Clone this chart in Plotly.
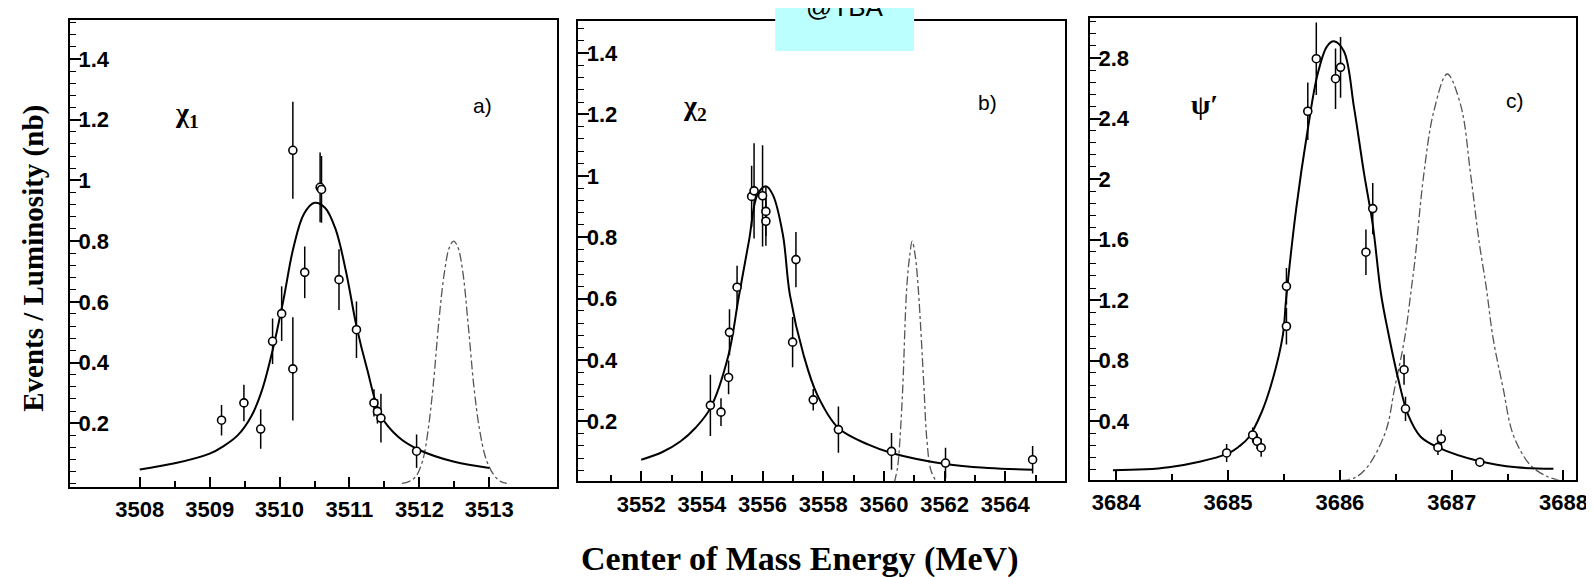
import plotly.graph_objects as go

# ---------------- data ----------------
# panel a (chi_1)
a_x = [3509.17, 3509.49, 3509.73, 3509.90, 3510.03, 3510.19, 3510.19, 3510.36, 3510.58, 3510.60,
       3510.85, 3511.10, 3511.35, 3511.40, 3511.45, 3511.96]
a_y = [0.210, 0.267, 0.181, 0.470, 0.561, 0.379, 1.099, 0.697, 0.977, 0.970,
       0.673, 0.508, 0.267, 0.239, 0.217, 0.108]
a_err = [0.05, 0.06, 0.065, 0.075, 0.09, 0.17, 0.16, 0.085, 0.115, 0.11,
         0.10, 0.093, 0.045, 0.04, 0.08, 0.055]
a_fit_x = [3508.0, 3508.5, 3509.0, 3509.2, 3509.4, 3509.6, 3509.75, 3509.9, 3510.05, 3510.2,
           3510.35, 3510.5, 3510.65, 3510.8, 3510.95, 3511.1, 3511.25, 3511.45, 3511.7, 3512.0,
           3512.5, 3513.0]
a_fit_y = [0.048, 0.068, 0.100, 0.125, 0.160, 0.225, 0.310, 0.440, 0.600, 0.780,
           0.890, 0.926, 0.910, 0.840, 0.700, 0.520, 0.380, 0.225, 0.155, 0.112,
           0.073, 0.053]
a_beam_x = [3511.75, 3511.85, 3511.95, 3512.05, 3512.12, 3512.2, 3512.28, 3512.36, 3512.43, 3512.49,
            3512.55, 3512.62, 3512.70, 3512.78, 3512.86, 3512.95, 3513.05, 3513.15, 3513.25]
a_beam_y = [0.002, 0.008, 0.025, 0.080, 0.170, 0.330, 0.540, 0.700, 0.780, 0.800,
            0.780, 0.700, 0.520, 0.320, 0.180, 0.085, 0.035, 0.010, 0.002]

# panel b (chi_2)
b_x = [3554.28, 3554.63, 3554.88, 3554.91, 3555.16, 3555.64, 3555.72, 3556.00, 3556.11, 3556.11,
       3556.99, 3557.10, 3557.67, 3558.50, 3560.25, 3562.03, 3564.90]
b_y = [0.252, 0.230, 0.343, 0.490, 0.637, 0.933, 0.951, 0.935, 0.884, 0.852,
       0.458, 0.727, 0.270, 0.173, 0.102, 0.064, 0.075]
b_err = [0.10, 0.045, 0.055, 0.075, 0.07, 0.10, 0.155, 0.165, 0.08, 0.08,
         0.082, 0.09, 0.035, 0.075, 0.06, 0.05, 0.045]
b_fit_x = [3552.0, 3552.7, 3553.3, 3553.8, 3554.28, 3554.88, 3555.21, 3555.55, 3555.83, 3556.11,
           3556.34, 3556.67, 3556.90, 3557.35, 3557.80, 3558.50, 3559.49, 3560.25, 3562.03, 3563.44,
           3564.90]
b_fit_y = [0.075, 0.100, 0.135, 0.180, 0.243, 0.417, 0.602, 0.787, 0.938, 0.966,
           0.938, 0.808, 0.613, 0.417, 0.287, 0.178, 0.124, 0.097, 0.061, 0.048,
           0.042]
b_beam_x = [3560.34, 3560.45, 3560.53, 3560.62, 3560.75, 3560.85, 3560.93, 3561.03, 3561.13, 3561.32,
            3561.41, 3561.55, 3561.75]
b_beam_y = [0.0, 0.05, 0.146, 0.309, 0.634, 0.740, 0.787, 0.740, 0.634, 0.309,
            0.146, 0.040, 0.0]

# panel c (psi')
c_x = [3684.987, 3685.22, 3685.26, 3685.296, 3685.522, 3685.522, 3685.713, 3685.789, 3685.961, 3686.006,
       3686.233, 3686.294, 3686.574, 3686.587, 3686.877, 3686.907, 3687.252]
c_y = [0.191, 0.310, 0.268, 0.226, 1.028, 1.292, 2.448, 2.795, 2.663, 2.738,
       1.517, 1.805, 0.741, 0.483, 0.228, 0.285, 0.130]
c_err = [0.06, 0.05, 0.05, 0.06, 0.12, 0.12, 0.19, 0.24, 0.20, 0.20,
         0.15, 0.17, 0.10, 0.08, 0.05, 0.06, 0.03]
c_fit_x = [3683.97, 3684.47, 3684.99, 3685.10, 3685.18, 3685.30, 3685.40, 3685.49, 3685.52, 3685.61,
           3685.71, 3685.80, 3685.885, 3685.946, 3686.036, 3686.127, 3686.218, 3686.294, 3686.369, 3686.43,
           3686.52, 3686.61, 3686.72, 3686.877, 3687.25, 3687.58, 3687.91]
c_fit_y = [0.077, 0.096, 0.185, 0.235, 0.290, 0.460, 0.680, 0.970, 1.215, 1.809,
           2.316, 2.690, 2.877, 2.910, 2.844, 2.470, 2.029, 1.699, 1.236, 0.995,
           0.686, 0.444, 0.300, 0.228, 0.136, 0.096, 0.087]
c_beam_x = [3686.01, 3686.13, 3686.25, 3686.41, 3686.49, 3686.58, 3686.64, 3686.67, 3686.75, 3686.84,
            3686.96, 3687.08, 3687.17, 3687.245, 3687.31, 3687.37, 3687.46, 3687.55, 3687.70, 3687.85,
            3687.96]
c_beam_y = [0.010, 0.026, 0.103, 0.334, 0.620, 0.951, 1.281, 1.456, 2.028, 2.447,
            2.694, 2.490, 2.028, 1.588, 1.281, 0.951, 0.620, 0.312, 0.114, 0.037,
            0.010]

# tick labels
a_xticks = [3508, 3509, 3510, 3511, 3512, 3513]
a_xminor = [3508.5, 3509.5, 3510.5, 3511.5, 3512.5]
b_xticks = [3552, 3554, 3556, 3558, 3560, 3562, 3564]
b_xminor = [3551, 3553, 3555, 3557, 3559, 3561, 3563, 3565]
c_xticks = [3684, 3685, 3686, 3687, 3688]
c_xminor = [3684.5, 3685.5, 3686.5, 3687.5]
ab_yticks = [0.2, 0.4, 0.6, 0.8, 1.0, 1.2, 1.4]
ab_ylabels = ["0.2", "0.4", "0.6", "0.8", "1", "1.2", "1.4"]
c_yticks = [0.4, 0.8, 1.2, 1.6, 2.0, 2.4, 2.8]
c_ylabels = ["0.4", "0.8", "1.2", "1.6", "2", "2.4", "2.8"]

# ---------------- figure ----------------
W, H = 1594, 577
def PX(x):
    return x / W
def PY(y):
    return 1 - y / H

fig = go.Figure()

def add_panel(i, px, py, perr, fx, fy, bx, by):
    xa = 'x' if i == 1 else 'x%d' % i
    ya = 'y' if i == 1 else 'y%d' % i
    fig.add_trace(go.Scatter(x=bx, y=by, mode='lines', xaxis=xa, yaxis=ya,
                             line=dict(color='#555555', width=1.3, dash='dashdot', shape='spline'),
                             showlegend=False, hoverinfo='skip'))
    fig.add_trace(go.Scatter(x=fx, y=fy, mode='lines', xaxis=xa, yaxis=ya,
                             line=dict(color='black', width=2, shape='spline'),
                             showlegend=False, hoverinfo='skip'))
    fig.add_trace(go.Scatter(x=px, y=py, mode='markers', xaxis=xa, yaxis=ya,
                             marker=dict(symbol='circle', size=8, color='white',
                                         line=dict(color='black', width=1.6)),
                             error_y=dict(type='data', array=perr, visible=True,
                                          color='black', thickness=1.5, width=0),
                             showlegend=False))

add_panel(1, a_x, a_y, a_err, a_fit_x, a_fit_y, a_beam_x, a_beam_y)
add_panel(2, b_x, b_y, b_err, b_fit_x, b_fit_y, b_beam_x, b_beam_y)
add_panel(3, c_x, c_y, c_err, c_fit_x, c_fit_y, c_beam_x, c_beam_y)

tickfont = dict(family='Liberation Sans', size=22, color='black', weight='bold')

def xaxis(dom, rng, tv, minor, anchor):
    return dict(domain=dom, range=rng, anchor=anchor, tickvals=tv, ticktext=[str(v) for v in tv],
                ticks='inside', ticklen=10, tickwidth=1.5, tickcolor='black',
                showline=True, linecolor='black', linewidth=2, mirror=True,
                showgrid=False, zeroline=False, tickfont=tickfont, ticklabelstandoff=2,
                ticklabeloverflow='allow',
                minor=dict(tickvals=minor, ticks='inside', ticklen=6, tickwidth=1.5,
                           tickcolor='black', showgrid=False))

def yaxis(dom, rng, tv, tt, mdt, anchor):
    return dict(domain=dom, range=rng, anchor=anchor, tickvals=tv, ticktext=tt,
                ticks='inside', ticklen=11, tickwidth=1.5, tickcolor='black',
                ticklabelposition='inside', ticklabelstandoff=-1, ticklabeloverflow='allow',
                showline=True, linecolor='black', linewidth=2, mirror=True,
                showgrid=False, zeroline=False, tickfont=tickfont,
                minor=dict(dtick=mdt, tick0=0, ticks='inside', ticklen=6, tickwidth=1.2,
                           tickcolor='black', showgrid=False))

fig.update_layout(
    width=W, height=H, margin=dict(l=0, r=0, t=0, b=0),
    paper_bgcolor='white', plot_bgcolor='white', showlegend=False,
    xaxis=xaxis([PX(62.3), PX(553)], [3507.0, 3513.966], a_xticks, a_xminor, 'y'),
    yaxis=yaxis([PY(479), PY(12)], [-0.0099, 1.528], ab_yticks, ab_ylabels, 0.04, 'x'),
    xaxis2=xaxis([PX(574.4), PX(1065.1)], [3549.92, 3565.97], b_xticks, b_xminor, 'y2'),
    yaxis2=yaxis([PY(473.3), PY(13.3)], [0.0046, 1.5035], ab_yticks, ab_ylabels, 0.04, 'x2'),
    xaxis3=xaxis([PX(1090), PX(1580)], [3683.763, 3688.113], c_xticks, c_xminor, 'y3'),
    yaxis3=yaxis([PY(471.7), PY(10)], [0.0145, 3.064], c_yticks, c_ylabels, 0.08, 'x3'),
)

serif_b = dict(family='Liberation Serif', size=29, color='black', weight='bold')
sans = dict(family='Liberation Sans', size=21, color='black')
greek = dict(family='Liberation Serif', size=28, color='black', weight='bold')

ann = [
    dict(text='Events / Luminosity (nb)', x=PX(25), y=PY(250), textangle=-90, font=serif_b),
    dict(text='Center of Mass Energy (MeV)', x=PX(798), y=PY(551), font=dict(serif_b, size=34)),
    dict(text='a)', x=PX(478), y=PY(97), font=sans),
    dict(text='b)', x=PX(987), y=PY(95), font=sans),
    dict(text='c)', x=PX(1518), y=PY(93), font=sans),
    dict(text='χ<sub>1</sub>', x=PX(180), y=PY(106), font=greek),
    dict(text='χ<sub>2</sub>', x=PX(692), y=PY(100), font=greek),
    dict(text='ψ′', x=PX(1206), y=PY(96), font=greek),
]
for a in ann:
    a.update(xref='paper', yref='paper', showarrow=False, xanchor='center', yanchor='middle')
    fig.add_annotation(**a)

fig.add_shape(type='rect', xref='paper', yref='paper', x0=PX(773), x1=PX(913), y0=PY(43), y1=1.01,
              fillcolor='#BCFFFF', line=dict(width=0), layer='above')
fig.add_annotation(text='@TBA', xref='paper', yref='paper', x=PX(843), y=PY(16), xanchor='center',
                   yanchor='bottom', showarrow=False,
                   font=dict(family='Liberation Sans', size=26, color='black'))

fig.write_html('out.html')
